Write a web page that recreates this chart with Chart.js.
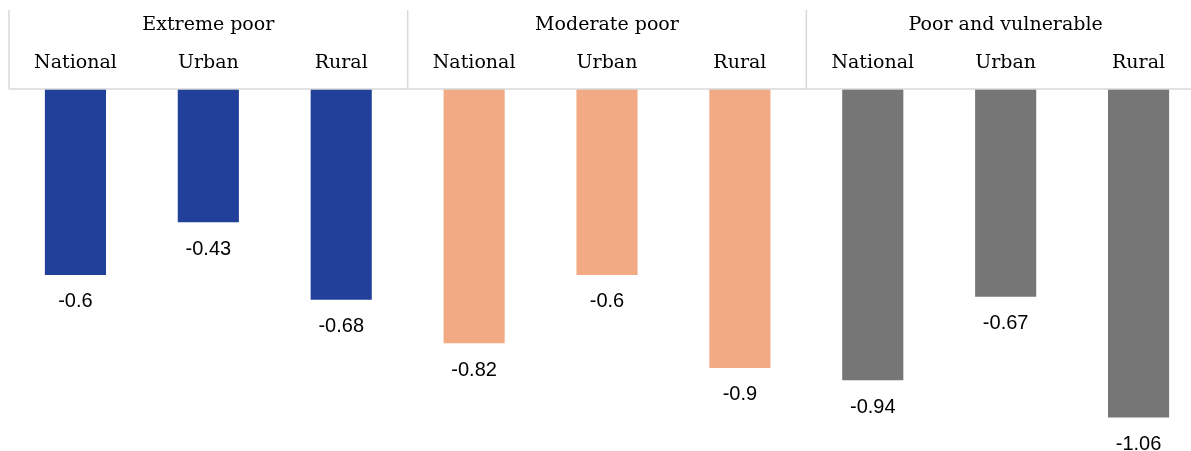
<!DOCTYPE html>
<html>
<head>
<meta charset="UTF-8">
<script src="https://cdn.jsdelivr.net/npm/chart.js"></script>
<style>
  body { margin: 0; background: #fff; }
  #wrap { width: 1191px; height: 451px; overflow: hidden; }
</style>
</head>
<body>
<div id="wrap"><canvas id="c" width="1205" height="451"></canvas></div>
<script>
const groups = ['Extreme poor', 'Moderate poor', 'Poor and vulnerable'];
const categories = ['National', 'Urban', 'Rural', 'National', 'Urban', 'Rural', 'National', 'Urban', 'Rural'];
const values = [-0.6, -0.43, -0.68, -0.82, -0.6, -0.9, -0.94, -0.67, -1.06];
const groupColors = ['#21409A', '#F2AA84', '#767676'];

const serif = '"DejaVu Serif", serif';
const sans = '"Liberation Sans", Arial, sans-serif';

const header = {
  id: 'header',
  afterDraw(chart) {
    const c = chart.ctx, x = chart.scales.x, top = chart.chartArea.top;
    const step = x.getPixelForValue(1) - x.getPixelForValue(0);
    const left = x.getPixelForValue(0) - step / 2;
    c.save();
    c.strokeStyle = '#d9d9d9';
    c.lineWidth = 1.5;
    c.beginPath();
    c.moveTo(left, top); c.lineTo(chart.width, top);
    for (let g = 0; g < 3; g++) {
      const gx = left + g * 3 * step;
      c.moveTo(gx, 10); c.lineTo(gx, top);
    }
    c.stroke();
    c.fillStyle = '#000';
    c.textAlign = 'center';
    c.textBaseline = 'middle';
    c.font = '19px ' + serif;
    groups.forEach((g, i) => c.fillText(g, left + (i * 3 + 1.5) * step, 25));
    categories.forEach((t, i) => c.fillText(t, x.getPixelForValue(i), 63));
    // value labels
    c.font = '20px ' + sans;
    const meta = chart.getDatasetMeta(0);
    meta.data.forEach((b, i) => c.fillText(String(values[i]), b.x, b.y + 27));
    c.restore();
  }
};

new Chart(document.getElementById('c'), {
  type: 'bar',
  data: {
    labels: categories,
    datasets: [{
      data: values,
      backgroundColor: values.map((v, i) => groupColors[Math.floor(i / 3)]),
      categoryPercentage: 1,
      barPercentage: 0.46
    }]
  },
  options: {
    responsive: false,
    animation: false,
    layout: { padding: { left: 9, right: 0, top: 89, bottom: 0 } },
    plugins: { legend: { display: false }, tooltip: { enabled: false } },
    scales: {
      x: { display: false },
      y: { display: false, min: -1.168, max: 0 }
    }
  },
  plugins: [header]
});
</script>
</body>
</html>
